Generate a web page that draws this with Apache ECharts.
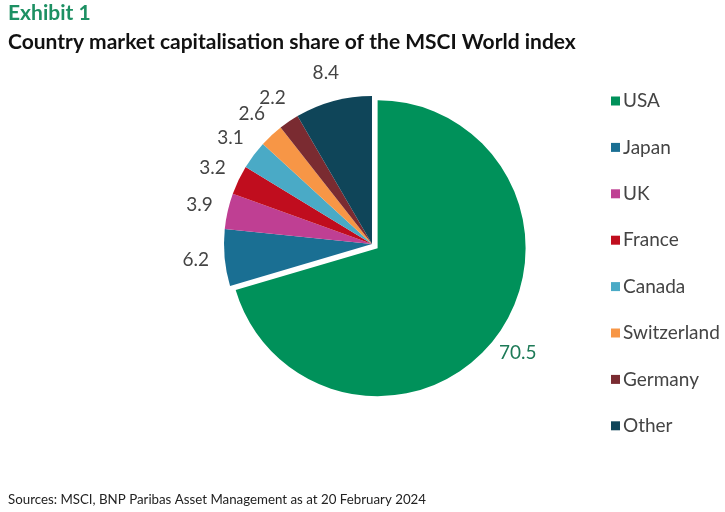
<!DOCTYPE html>
<html>
<head>
<meta charset="utf-8">
<script src="https://cdn.jsdelivr.net/npm/echarts@6/dist/echarts.min.js"></script>
<style>
  html, body { margin: 0; padding: 0; background: #fff; }
  #chart { width: 725px; height: 512px; }
</style>
</head>
<body>
<div id="chart"></div>
<script>
// country shares, clockwise from 12 o'clock
const countries = ['USA', 'Japan', 'UK', 'France', 'Canada', 'Switzerland', 'Germany', 'Other'];
const shares = [70.5, 6.2, 3.9, 3.2, 3.1, 2.6, 2.2, 8.4];
const colors = ['#00915a', '#1a6f93', '#bf3f93', '#c00d1e', '#4aaac6', '#f79646', '#7a2b31', '#0f4559'];

const chart = echarts.init(document.getElementById('chart'), null, { renderer: 'canvas' });

const font = 'Lato';

// the visible slices
const slices = countries.map((name, i) => ({
  name: name,
  value: shares[i],
  selected: i === 0,
  itemStyle: { color: colors[i] }
}));

// invisible ring just outside the pie, only used to centre the value labels radially
const labelRing = countries.map((name, i) => ({
  name: name,
  value: shares[i],
  selected: i === 0,
  label: { color: i === 0 ? '#1d7a57' : '#444' }
}));

chart.setOption({
  animation: false,
  title: [
    {
      text: 'Exhibit 1',
      left: 8, top: 3, padding: 0,
      textStyle: { fontFamily: font, fontWeight: 'bold', fontSize: 21, color: '#1d9063' }
    },
    {
      text: 'Country market capitalisation share of the MSCI World index',
      left: 8, top: 32, padding: 0,
      textStyle: { fontFamily: font, fontWeight: 'bold', fontSize: 21, color: '#111' }
    },
    {
      text: 'Sources: MSCI, BNP Paribas Asset Management as at 20 February 2024',
      left: 8, top: 493, padding: 0,
      textStyle: { fontFamily: font, fontWeight: 'normal', fontSize: 13.3, color: '#222' }
    }
  ],
  legend: {
    orient: 'vertical',
    left: 606, top: 86,
    icon: 'rect',
    itemWidth: 9, itemHeight: 9,
    itemGap: 26.4,
    selectedMode: false,
    data: countries.map((name, i) => ({ name: name, itemStyle: { color: colors[i] } })),
    textStyle: { fontFamily: font, fontSize: 19, color: '#444', lineHeight: 20, padding: [0, 0, 0, -2] }
  },
  series: [
    {
      type: 'pie',
      center: [372, 244],
      radius: [0, 148],
      startAngle: 90,
      clockwise: true,
      selectedMode: 'single',
      selectedOffset: 7,
      emphasis: { disabled: true },
      itemStyle: { borderWidth: 0 },
      label: { show: false },
      labelLine: { show: false },
      data: slices
    },
    {
      type: 'pie',
      silent: true,
      center: [372, 244],
      radius: [172, 176],
      startAngle: 90,
      clockwise: true,
      selectedMode: 'single',
      selectedOffset: 5,
      emphasis: { disabled: true },
      itemStyle: { color: 'rgba(0,0,0,0)', borderWidth: 0 },
      label: {
        show: true,
        position: 'inside',
        formatter: p => p.value.toFixed(1),
        fontFamily: font,
        fontSize: 19
      },
      labelLayout: { hideOverlap: false },
      labelLine: { show: false },
      data: labelRing
    }
  ]
});
</script>
</body>
</html>
